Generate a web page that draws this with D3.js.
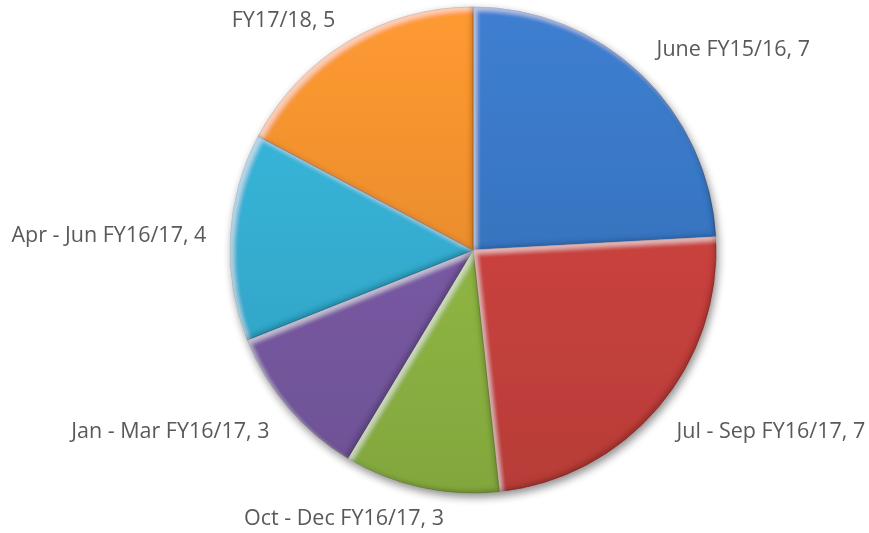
<!DOCTYPE html>
<html><head><meta charset="utf-8">
<script src="https://cdn.jsdelivr.net/npm/d3@7"></script>
<style>body{margin:0;background:#fff} svg{display:block}</style>
</head><body><svg id="chart" width="869" height="533"></svg>
<script>
// Reporting periods and counts, clockwise from 12 o'clock
const categories = ["June FY15/16", "Jul - Sep FY16/17", "Oct - Dec FY16/17", "Jan - Mar FY16/17", "Apr - Jun FY16/17", "FY17/18"];
const values = [7, 7, 3, 3, 4, 5];
const colors = ["#3A78C6", "#CF4440", "#93BC45", "#7B5CA8", "#36B2D6", "#F5922E"];

const W = 869, H = 533;
const cx = 473, cy = 250, r = 243;
const svg = d3.select("#chart");
const defs = svg.append("defs");

// soft drop shadow under the whole pie
const shadow = defs.append("filter").attr("id", "pieShadow")
  .attr("x", "-10%").attr("y", "-10%").attr("width", "125%").attr("height", "125%");
shadow.append("feGaussianBlur").attr("in", "SourceAlpha").attr("stdDeviation", 4).attr("result", "b");
shadow.append("feOffset").attr("in", "b").attr("dx", 2).attr("dy", 4).attr("result", "o");
shadow.append("feComponentTransfer").attr("in", "o").attr("result", "s")
  .append("feFuncA").attr("type", "linear").attr("slope", 0.45);
const sm = shadow.append("feMerge");
sm.append("feMergeNode").attr("in", "s");
sm.append("feMergeNode").attr("in", "SourceGraphic");

// inner bevel: light on upper-left facing edges, dark on lower-right facing edges
const bevel = defs.append("filter").attr("id", "bevel")
  .attr("x", "-5%").attr("y", "-5%").attr("width", "110%").attr("height", "110%");
bevel.append("feGaussianBlur").attr("in", "SourceAlpha").attr("stdDeviation", 2).attr("result", "blur");
bevel.append("feOffset").attr("in", "blur").attr("dx", 3.5).attr("dy", 3.5).attr("result", "offA");
bevel.append("feComposite").attr("in", "SourceAlpha").attr("in2", "offA").attr("operator", "out").attr("result", "hiMask");
bevel.append("feFlood").attr("flood-color", "#ffffff").attr("flood-opacity", 0.45).attr("result", "white");
bevel.append("feComposite").attr("in", "white").attr("in2", "hiMask").attr("operator", "in").attr("result", "hi");
bevel.append("feOffset").attr("in", "blur").attr("dx", -3.5).attr("dy", -3.5).attr("result", "offB");
bevel.append("feComposite").attr("in", "SourceAlpha").attr("in2", "offB").attr("operator", "out").attr("result", "loMask");
bevel.append("feFlood").attr("flood-color", "#000000").attr("flood-opacity", 0.35).attr("result", "black");
bevel.append("feComposite").attr("in", "black").attr("in2", "loMask").attr("operator", "in").attr("result", "lo");
const bm = bevel.append("feMerge");
bm.append("feMergeNode").attr("in", "SourceGraphic");
bm.append("feMergeNode").attr("in", "hi");
bm.append("feMergeNode").attr("in", "lo");

// vertical shading per slice colour (in the pie group's coordinates)
colors.forEach((c, i) => {
  const g = defs.append("linearGradient").attr("id", "grad" + i)
    .attr("gradientUnits", "userSpaceOnUse")
    .attr("x1", 0).attr("y1", -r).attr("x2", 0).attr("y2", r);
  g.append("stop").attr("offset", 0).attr("stop-color", d3.color(c).brighter(0.15));
  g.append("stop").attr("offset", 1).attr("stop-color", d3.color(c).darker(0.35));
});

const data = categories.map((name, i) => ({ name, value: values[i], i }));
const pie = d3.pie().value(d => d.value).sort(null);
const arcs = pie(data);
const arc = d3.arc().innerRadius(0).outerRadius(r);

const g = svg.append("g").attr("transform", `translate(${cx},${cy})`)
  .attr("filter", "url(#pieShadow)");

g.selectAll("path.slice").data(arcs).join("path")
  .attr("class", "slice")
  .attr("d", arc)
  .attr("fill", d => `url(#grad${d.data.i})`)
  .attr("stroke", d => d3.color(colors[d.data.i]).darker(1.2))
  .attr("stroke-width", 0.6)
  .attr("filter", "url(#bevel)");

// data labels: the label corner nearest the pie sits on the slice's mid-angle ray,
// kept inside the chart area
const fontSize = 21.5;
const capH = fontSize * 0.714;
const labelR = r + 24;
const minBaseline = 27, maxBaseline = H - 8;
const ramp = v => Math.max(-1, Math.min(1, v / 0.3));
const labels = svg.append("g").attr("font-family", "'Open Sans', sans-serif")
  .attr("font-size", fontSize).attr("fill", "#595959");

arcs.forEach(d => {
  const t = labels.append("text").text(`${d.data.name}, ${d.data.value}`);
  const w = t.node().getComputedTextLength();
  const a = (d.startAngle + d.endAngle) / 2;
  const s = Math.sin(a), c = Math.cos(a);
  const px = cx + labelR * s, py = cy - labelR * c;
  const mx = Math.max(w / 2 + 4, Math.min(W - w / 2 - 2, px + ramp(s) * w / 2));
  const my = py - ramp(c) * capH / 2;
  const base = Math.max(minBaseline, Math.min(maxBaseline, my + capH / 2));
  t.attr("x", mx).attr("y", base).attr("text-anchor", "middle");
});
</script>
</body></html>
